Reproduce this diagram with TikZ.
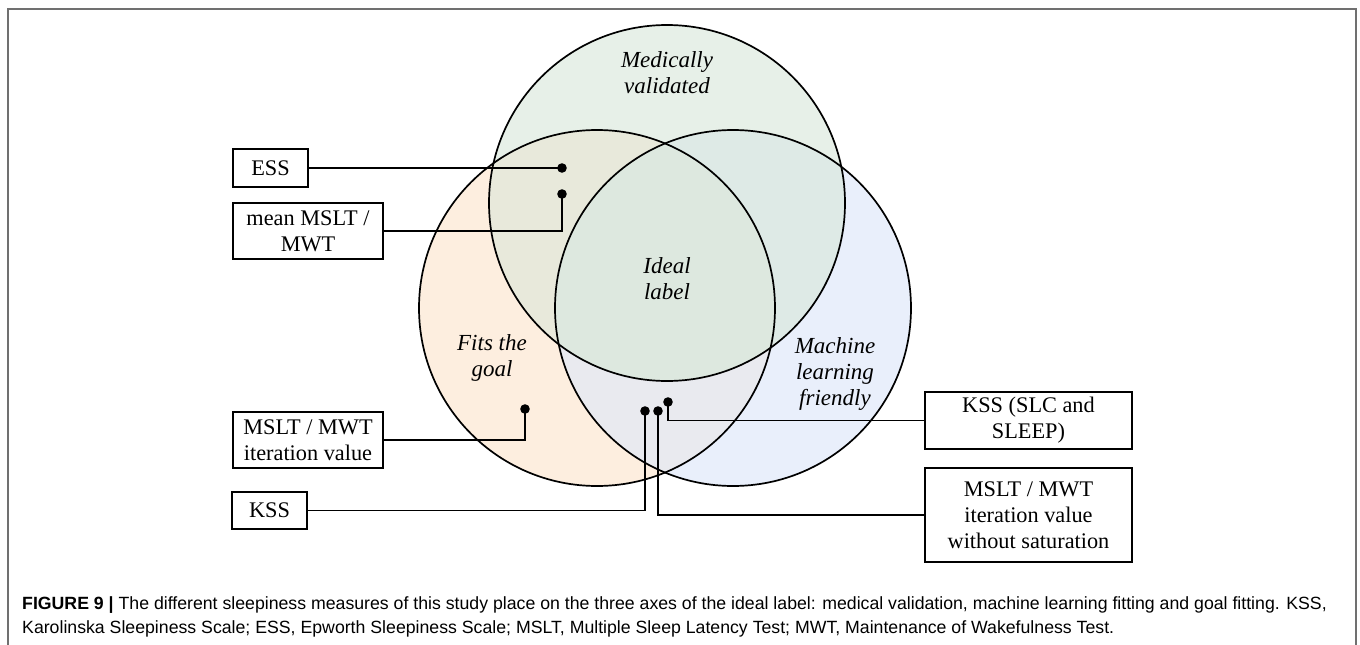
\documentclass[tikz,border=0pt]{standalone}
\usepackage{fontspec}
\setmainfont{Liberation Serif}
\newfontfamily\capfont{Liberation Sans}
\definecolor{cT}{HTML}{E7F0E8}
\definecolor{cL}{HTML}{FDEEDF}
\definecolor{cR}{HTML}{E9EFFB}
\definecolor{cTL}{HTML}{E8E9DB}
\definecolor{cTR}{HTML}{DEEAE6}
\definecolor{cLR}{HTML}{E9EAEF}
\definecolor{cTLR}{HTML}{DDE8DF}
\definecolor{frame}{HTML}{707070}
\begin{document}
\begin{tikzpicture}[x=1pt,y=-1pt,
  lbl/.style={font=\fontsize{23}{26}\selectfont\itshape, align=center, inner sep=0pt},
  box/.style={draw, line width=1.5pt, font=\fontsize{22.3}{26}\selectfont, align=center, inner sep=0pt},
  conn/.style={line width=1.5pt},
  ring/.style={line width=1.7pt},
  dot/.style={fill=black}]
\useasboundingbox (0,0) rectangle (1360,645);
\fill[white] (0,0) rectangle (1360,645);
\draw[frame, line width=1.6pt] (8,650) -- (8,9) -- (1356,9) -- (1356,650);
% circle centres
\coordinate (T) at (667,203);
\coordinate (L) at (597,308);
\coordinate (R) at (733,308);
\def\rr{178}
% fills
\fill[cT] (T) circle[radius=\rr];
\fill[cL] (L) circle[radius=\rr];
\fill[cR] (R) circle[radius=\rr];
\begin{scope}\clip (T) circle[radius=\rr]; \fill[cTL] (L) circle[radius=\rr]; \end{scope}
\begin{scope}\clip (T) circle[radius=\rr]; \fill[cTR] (R) circle[radius=\rr]; \end{scope}
\begin{scope}\clip (L) circle[radius=\rr]; \fill[cLR] (R) circle[radius=\rr]; \end{scope}
\begin{scope}\clip (T) circle[radius=\rr]; \clip (L) circle[radius=\rr]; \fill[cTLR] (R) circle[radius=\rr]; \end{scope}
% outlines
\draw[ring] (T) circle[radius=\rr];
\draw[ring] (L) circle[radius=\rr];
\draw[ring] (R) circle[radius=\rr];
% labels
\node[lbl] (med) at (667,73) {Medically\\validated};
\node[lbl] (ideal) at (667,279) {Ideal\\label};
\node[lbl] (fits) at (492,358) {Fits the\\goal};
\node[lbl] (ml) at (835,374) {Machine\\learning\\friendly};
% boxes
\node[box, minimum width=75pt, minimum height=38pt] (ess) at (270.5,168) {ESS};
\node[box, minimum width=150pt, minimum height=56pt] (mean) at (308,231) {mean MSLT /\\MWT};
\node[box, minimum width=150pt, minimum height=56pt] (iter) at (308,440) {MSLT / MWT\\iteration value};
\node[box, minimum width=75pt, minimum height=37pt] (kss) at (269.5,510.5) {KSS};
\node[box, minimum width=207pt, minimum height=57pt] (kssslc) at (1028.5,420.5) {KSS (SLC and\\SLEEP)};
\node[box, minimum width=207pt, minimum height=94pt] (wsat) at (1028.5,515) {MSLT / MWT\\iteration value\\without saturation};
% dots
\coordinate (d1) at (562,168);
\coordinate (d2) at (562,194);
\coordinate (d3) at (525,409);
\coordinate (d4) at (645,411);
\coordinate (d5) at (668,402);
\coordinate (d6) at (658,411);
% connectors
\draw[conn] (ess.east) -- (d1);
\draw[conn] (mean.east) -| (d2);
\draw[conn] (iter.east) -| (d3);
\draw[conn] (kss.east) -| (d4);
\draw[conn] (kssslc.west) -| (d5);
\draw[conn] (wsat.west) -| (d6);
\foreach \d in {d1,d2,d3,d4,d5,d6} \fill[dot] (\d) circle[radius=4.8];
% caption
\node[anchor=base west, inner sep=0pt, font=\capfont\fontsize{17.7}{20}\selectfont] (cap1) at (22,609)
 {\textbf{FIGURE 9 |} The different sleepiness measures of this study place on the three axes of the ideal label: medical validation, machine learning fitting and goal fitting. KSS,};
\node[anchor=base west, inner sep=0pt, font=\capfont\fontsize{17.7}{20}\selectfont] (cap2) at (22,633)
 {Karolinska Sleepiness Scale; ESS, Epworth Sleepiness Scale; MSLT, Multiple Sleep Latency Test; MWT, Maintenance of Wakefulness Test.};
\end{tikzpicture}
\end{document}
